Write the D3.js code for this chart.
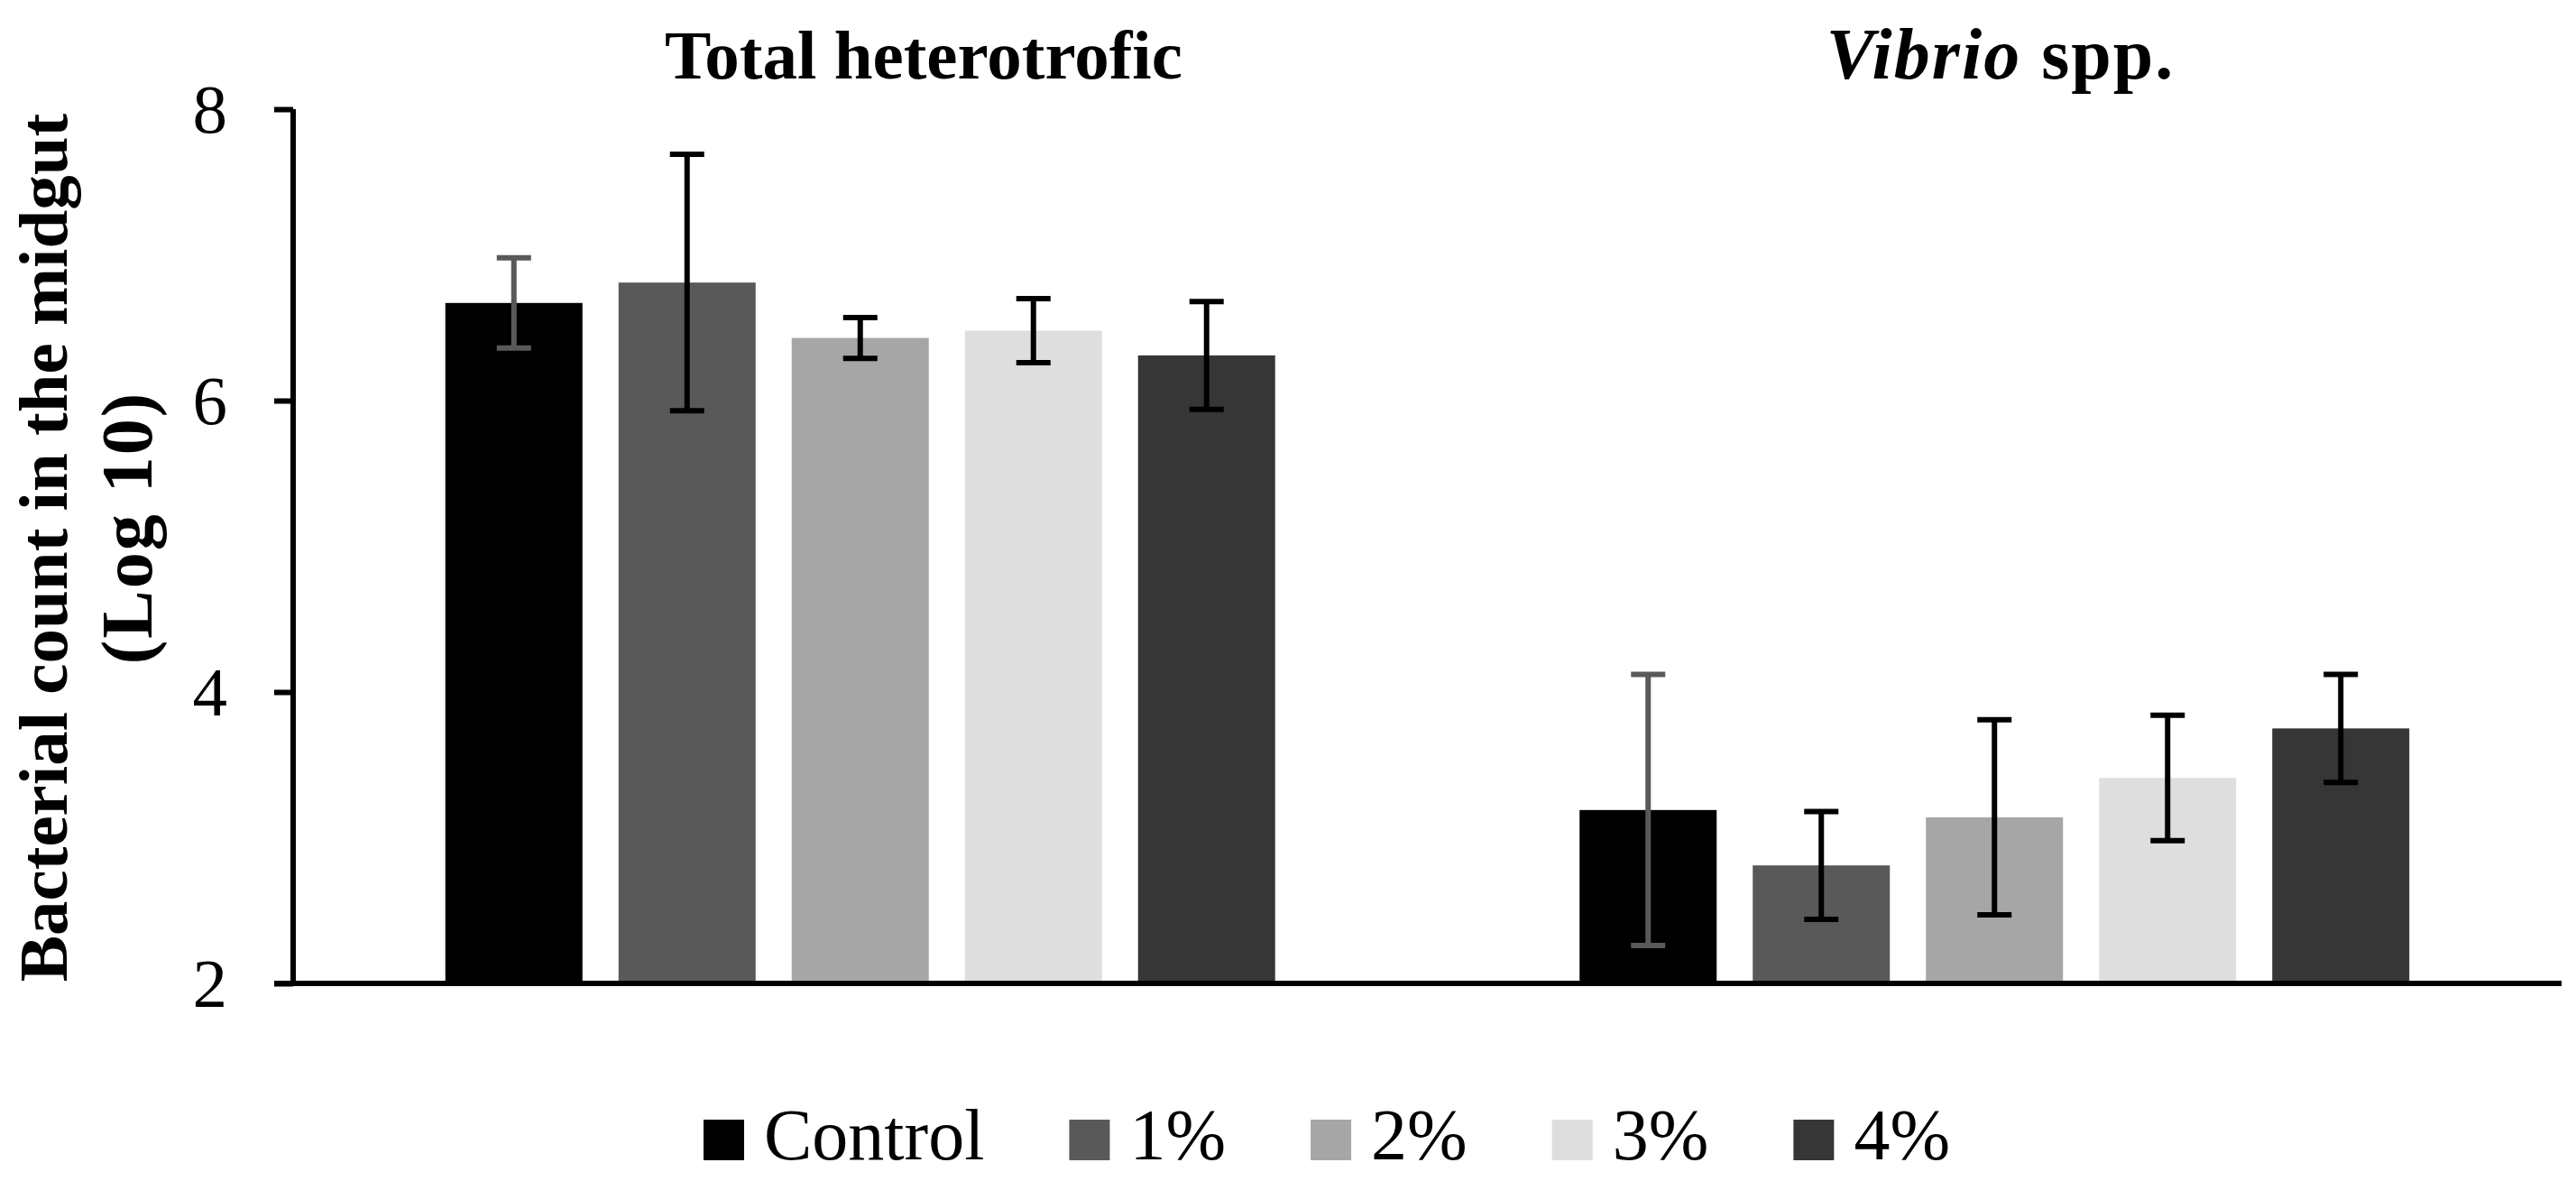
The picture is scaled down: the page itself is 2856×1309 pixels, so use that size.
<!DOCTYPE html>
<html>
<head>
<meta charset="utf-8">
<script src="https://cdn.jsdelivr.net/npm/d3@7"></script>
<style>
  body { margin: 0; background: #fff; }
  text { font-family: "Liberation Serif", "Times New Roman", serif; fill: #000; }
</style>
</head>
<body>
<div id="chart"></div>
<script>
// ---------- data ----------
const groups = ["Total heterotrofic", "Vibrio spp."];
const treatments = ["Control", "1%", "2%", "3%", "4%"];
const heteroMeans = [6.67, 6.81, 6.43, 6.48, 6.31];
const heteroErr = [0.31, 0.88, 0.14, 0.22, 0.37];
const vibrioMeans = [3.19, 2.81, 3.14, 3.41, 3.75];
const vibrioErr = [0.93, 0.37, 0.67, 0.43, 0.37];
const yTicks = [2, 4, 6, 8];
const colors = ["#000000", "#595959", "#a6a6a6", "#dedede", "#363636"];
const errColors = ["#595959", "#000000", "#000000", "#000000", "#000000"];

// ---------- layout ----------
const canvasWidth = 2856, canvasHeight = 1309;
const plotLeft = 325, plotRight = 2840, plotTop = 121, plotBottom = 1090;
const fontSize = 77;

const svg = d3.select("#chart").append("svg")
  .attr("width", canvasWidth).attr("height", canvasHeight);

const x0 = d3.scaleBand().domain(groups).range([plotLeft, plotRight]);
const x1 = d3.scaleBand().domain(treatments).range([0, x0.bandwidth()])
  .paddingInner(0.2083).paddingOuter(0.879);
const y = d3.scaleLinear().domain([2, 8]).range([plotBottom, plotTop]);
const color = d3.scaleOrdinal().domain(treatments).range(colors);

const rows = [];
groups.forEach((g, gi) => {
  const means = gi === 0 ? heteroMeans : vibrioMeans;
  const errs = gi === 0 ? heteroErr : vibrioErr;
  treatments.forEach((t, ti) => rows.push({ group: g, treat: t, ti, mean: means[ti], err: errs[ti] }));
});

// bars
svg.append("g").selectAll("rect").data(rows).join("rect")
  .attr("x", d => x0(d.group) + x1(d.treat))
  .attr("width", x1.bandwidth())
  .attr("y", d => y(d.mean))
  .attr("height", d => y(2) - y(d.mean))
  .attr("fill", d => color(d.treat));

// axes
const yAxis = svg.append("g")
  .attr("transform", `translate(${plotLeft},0)`)
  .call(d3.axisLeft(y).tickValues(yTicks).tickSize(21).tickPadding(52).tickFormat(d3.format("d")));
yAxis.select(".domain").attr("stroke", "#000").attr("stroke-width", 6).attr("d", `M0,${plotTop}V${plotBottom}`);
yAxis.selectAll(".tick line").attr("stroke", "#000").attr("stroke-width", 6);
yAxis.selectAll(".tick text")
  .style("font-size", fontSize + "px")
  .attr("dy", "0.33em");

svg.append("line")
  .attr("x1", plotLeft - 21).attr("x2", plotRight)
  .attr("y1", y(2)).attr("y2", y(2))
  .attr("stroke", "#000").attr("stroke-width", 6);

// error bars
const capW = 38;
const eb = svg.append("g").selectAll("g").data(rows).join("g")
  .attr("stroke", d => errColors[d.ti]).attr("stroke-width", 6);
const cx = d => x0(d.group) + x1(d.treat) + x1.bandwidth() / 2;
eb.append("line")
  .attr("x1", cx).attr("x2", cx)
  .attr("y1", d => y(d.mean + d.err)).attr("y2", d => y(d.mean - d.err));
eb.append("line")
  .attr("x1", d => cx(d) - capW / 2).attr("x2", d => cx(d) + capW / 2)
  .attr("y1", d => y(d.mean + d.err)).attr("y2", d => y(d.mean + d.err));
eb.append("line")
  .attr("x1", d => cx(d) - capW / 2).attr("x2", d => cx(d) + capW / 2)
  .attr("y1", d => y(d.mean - d.err)).attr("y2", d => y(d.mean - d.err));

// group titles
svg.append("text")
  .attr("x", 1024).attr("y", 87)
  .attr("text-anchor", "middle")
  .style("font-size", fontSize + "px").style("font-weight", "bold")
  .text(groups[0]);
const t2 = svg.append("text")
  .attr("x", 2218).attr("y", 87)
  .attr("text-anchor", "middle")
  .style("font-size", "80px").style("font-weight", "bold")
  .style("letter-spacing", "2px");
t2.append("tspan").style("font-style", "italic").text("Vibrio");
t2.append("tspan").text(" spp.");

// y axis title
svg.append("text")
  .attr("transform", "translate(74,607) rotate(-90)")
  .attr("text-anchor", "middle")
  .style("font-size", fontSize + "px").style("font-weight", "bold")
  .text("Bacterial count in the midgut");
svg.append("text")
  .attr("transform", "translate(168,585) rotate(-90)")
  .attr("text-anchor", "middle")
  .style("font-size", "80px").style("font-weight", "bold")
  .style("letter-spacing", "2px")
  .text("(Log 10)");

// legend
const legend = svg.append("g");
let lx = 780;
treatments.forEach((t, i) => {
  legend.append("rect")
    .attr("x", lx).attr("y", 1241)
    .attr("width", 45).attr("height", 45)
    .attr("fill", color(t));
  const txt = legend.append("text")
    .attr("x", lx + 67).attr("y", 1285)
    .style("font-size", "80px")
    .text(t);
  lx += 67 + txt.node().getComputedTextLength() + 94;
});
</script>
</body>
</html>
